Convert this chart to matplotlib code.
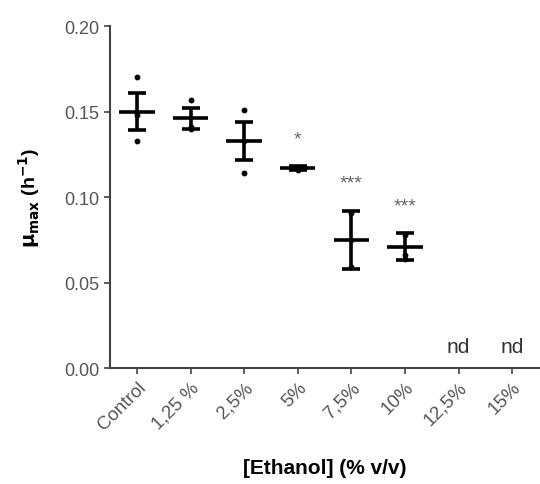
import numpy as np
import matplotlib
matplotlib.use("Agg")
import matplotlib.pyplot as plt

plt.rcParams['font.family'] = ['Liberation Sans', 'DejaVu Sans']

# --- DONNEES ---
categories = ["Control", "1,25 %", "2,5%", "5%", "7,5%", "10%", "12,5%", "15%"]
means  = [0.150, 0.146, 0.133, 0.117, 0.075, 0.071, None, None]
errors = [0.011, 0.006, 0.011, 0.001, 0.017, 0.008, None, None]
points = [
    [0.170, 0.148, 0.133],
    [0.157, 0.141, 0.140],
    [0.151, 0.133, 0.114],
    [0.117, 0.117, 0.116],
    [0.091, 0.075, 0.059],
    [0.078, 0.066, 0.064],
    [],
    [],
]
signif = ["", "", "", "*", "***", "***", "", ""]
nd_labels = ["", "", "", "", "", "", "nd", "nd"]

# --- FIGURE ---
fig = plt.figure(figsize=(5.4, 4.85), dpi=100)
ax = fig.add_axes([0.204, 0.239, 0.794, 0.705])

x = np.arange(len(categories))
for i in range(len(categories)):
    if means[i] is None:
        continue
    # points individuels
    ax.plot([x[i]] * len(points[i]), points[i], 'o', color='black',
            markersize=3.2, zorder=2)
    # moyenne + barre d'erreur
    ax.hlines(means[i], x[i] - 0.33, x[i] + 0.33, color='black',
              linewidth=2.6, zorder=3)
    ax.errorbar(x[i], means[i], yerr=errors[i], fmt='none', ecolor='black',
                elinewidth=2.6, capsize=6.5, capthick=2.6, zorder=3)

# étoiles de significativité et "nd"
for i in range(len(categories)):
    if signif[i]:
        top = max(max(points[i]), means[i] + errors[i])
        ax.text(x[i], top + 0.016, signif[i], ha='center', va='center',
                fontsize=14, color='#666666')
    if nd_labels[i]:
        ax.text(x[i], 0.007, nd_labels[i], ha='center', va='bottom',
                fontsize=15, color='#333333')

ax.set_xlim(-0.5, len(categories) - 0.5)
ax.set_ylim(0, 0.20)
ax.set_yticks([0.00, 0.05, 0.10, 0.15, 0.20])
ax.set_yticklabels(["0.00", "0.05", "0.10", "0.15", "0.20"])
ax.set_xticks(x)
ax.set_xticklabels(categories, rotation=45, ha='right', rotation_mode='anchor')

ax.spines['top'].set_visible(False)
ax.spines['right'].set_visible(False)
for s in ['left', 'bottom']:
    ax.spines[s].set_linewidth(1.5)
    ax.spines[s].set_color('#444444')
ax.tick_params(axis='both', direction='out', length=4, width=1.2,
               color='#444444', labelsize=13, labelcolor='#555555')
ax.tick_params(axis='x', labelsize=13.5)

ax.set_ylabel(r'$\mathbf{\mu_{max}}$ (h$^{\mathbf{-1}}$)', fontsize=14,
              fontweight='bold', labelpad=16)
ax.set_xlabel("[Ethanol] (% v/v)", fontsize=15, fontweight='bold',
              labelpad=18)

plt.savefig("out.png", dpi=100)
